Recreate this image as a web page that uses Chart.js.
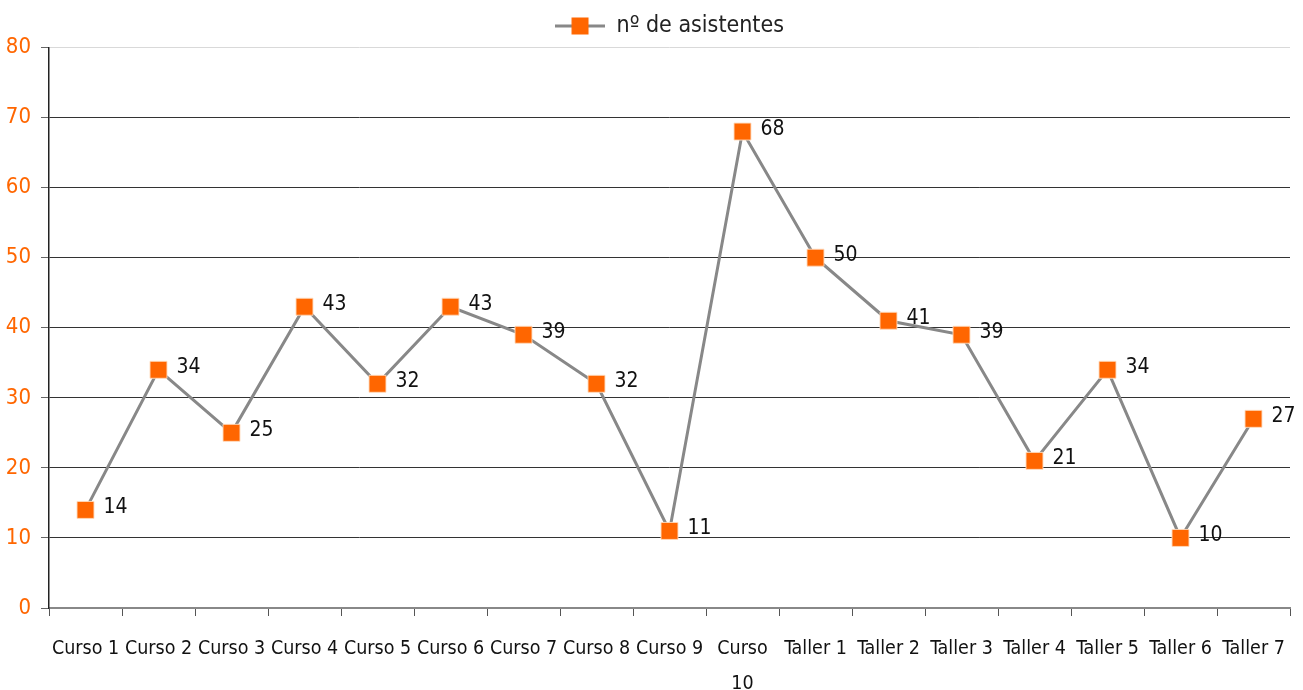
<!DOCTYPE html>
<html>
<head>
<meta charset="utf-8">
<script src="https://cdn.jsdelivr.net/npm/chart.js@4/dist/chart.umd.min.js"></script>
<style>
	body { margin: 0; background: #fff; }
	#chart { display: block; }
</style>
</head>
<body>
<canvas id="chart" width="1303" height="690"></canvas>
<script>
const FONT = "'Liberation Sans Narrow', 'DejaVu Sans Condensed', 'Arial Narrow', sans-serif";
const ORANGE = "#FF6600";

const labels = [
	"Curso 1", "Curso 2", "Curso 3", "Curso 4", "Curso 5", "Curso 6", "Curso 7",
	"Curso 8", "Curso 9", ["Curso", "10"], "Taller 1", "Taller 2", "Taller 3",
	"Taller 4", "Taller 5", "Taller 6", "Taller 7"
];
const asistentes = [14, 34, 25, 43, 32, 43, 39, 32, 11, 68, 50, 41, 39, 21, 34, 10, 27];
const seriesName = "nº de asistentes";
const yTicks = [0, 10, 20, 30, 40, 50, 60, 70, 80];

// legend symbol: grey line with the orange square in the middle
function legendSymbol() {
	const c = document.createElement("canvas");
	c.width = 50;
	c.height = 20;
	const g = c.getContext("2d");
	g.strokeStyle = "#888";
	g.lineWidth = 3;
	g.beginPath();
	g.moveTo(0, 10);
	g.lineTo(50, 10);
	g.stroke();
	g.fillStyle = ORANGE;
	g.fillRect(16.5, 1.5, 17, 17);
	return c;
}

// value printed to the right of every marker
const valueLabels = {
	id: "valueLabels",
	afterDatasetsDraw(chart) {
		const ctx = chart.ctx;
		ctx.save();
		ctx.font = "21px " + FONT;
		ctx.fillStyle = "#111";
		ctx.textAlign = "left";
		ctx.textBaseline = "middle";
		chart.data.datasets.forEach((ds, i) => {
			chart.getDatasetMeta(i).data.forEach((pt, j) => {
				ctx.fillText(ds.data[j], pt.x + 18, pt.y - 2);
			});
		});
		ctx.restore();
	}
};

const context = document.getElementById("chart").getContext("2d");
const chart = new Chart(context, {
	type: "line",
	data: {
		labels,
		datasets: [{
			label: seriesName,
			data: asistentes,
			borderColor: "#888",
			borderWidth: 3,
			tension: 0,
			pointStyle: "rect",
			pointRadius: 12,
			pointBackgroundColor: ORANGE,
			pointBorderColor: "rgba(255,220,190,0.9)",
			pointBorderWidth: 1
		}]
	},
	options: {
		responsive: false,
		animation: false,
		layout: { padding: { top: 0, right: 12, bottom: 0, left: 0 } },
		scales: {
			x: {
				offset: true,
				border: { color: "#888", width: 2 },
				grid: {
					offset: true,
					drawOnChartArea: false,
					drawTicks: true,
					tickLength: 8,
					tickColor: "#555"
				},
				ticks: {
					autoSkip: false,
					maxRotation: 0,
					padding: 15,
					color: "#111",
					font: { family: FONT, size: 19.5, lineHeight: 1.8 }
				},
				afterFit: (scale) => { scale.height = 82; }
			},
			y: {
				min: 0,
				max: 80,
				afterBuildTicks: (scale) => { scale.ticks = yTicks.map(v => ({ value: v })); },
				border: { color: "#222", width: 1.5 },
				grid: {
					color: (c) => c.tick && c.tick.value === 80 ? "#d9d9d9" : "#333",
					lineWidth: 1,
					tickLength: 8,
					tickColor: "#666"
				},
				ticks: {
					padding: 10,
					color: ORANGE,
					font: { family: FONT, size: 22 }
				},
				afterFit: (scale) => { scale.width = 49; }
			}
		},
		plugins: {
			legend: {
				position: "top",
				fullSize: false,
				labels: {
					usePointStyle: true,
					pointStyle: legendSymbol(),
					pointStyleWidth: 50,
					boxHeight: 20,
					padding: 14.5,
					color: "#222",
					font: { family: FONT, size: 23 }
				}
			},
			tooltip: { enabled: false }
		}
	},
	plugins: [valueLabels]
});
</script>
</body>
</html>
